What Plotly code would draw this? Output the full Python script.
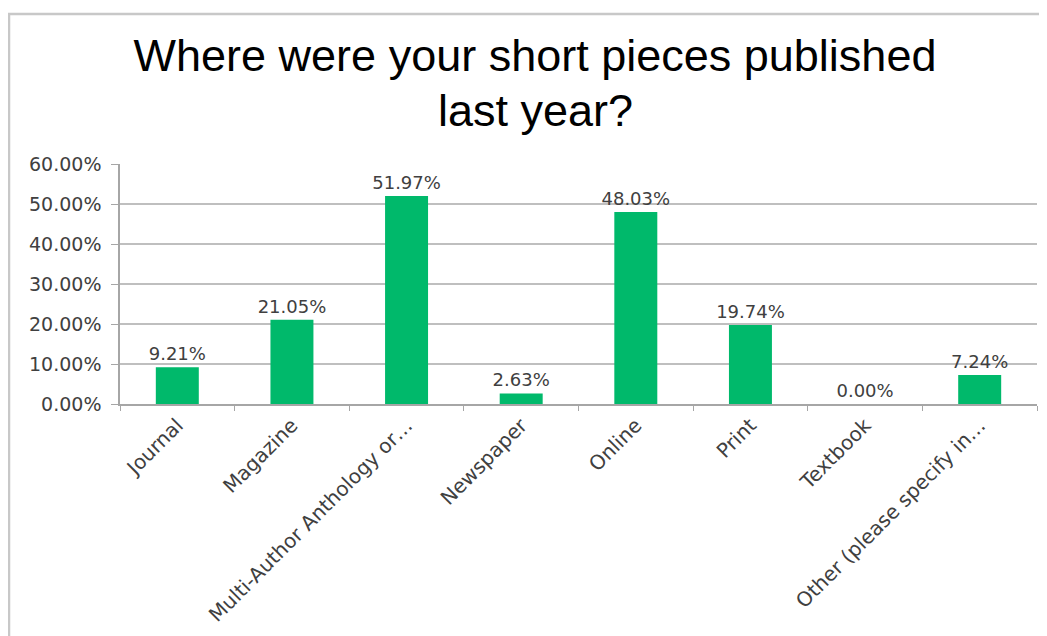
import plotly.graph_objects as go

categories = ["Journal", "Magazine", "Multi-Author Anthology or…", "Newspaper",
              "Online", "Print", "Textbook", "Other (please specify in…"]
values = [9.21, 21.05, 51.97, 2.63, 48.03, 19.74, 0.00, 7.24]
y_ticks = [0, 10, 20, 30, 40, 50, 60]
y_tick_labels = [f"{v:.2f}%" for v in y_ticks]
title_line1 = "Where were your short pieces published"
title_line2 = "last year?"

# page body has an 8px margin, so figure is sized to fit the viewport
W, H = 1039, 628
L, R, T, B = 112, 10, 156, 232
pw = W - L - R
ph = H - T - B


def px_x(x):
    return (x - L) / pw


def px_y(y):
    return (H - B - y) / ph


fig = go.Figure(go.Bar(
    x=categories, y=values,
    marker=dict(color="#00B96B", line=dict(width=0)),
    text=[f"{v:.2f}%" for v in values],
    textposition="outside",
    constraintext="none",
    textfont=dict(family="DejaVu Sans", size=18, color="#404040"),
    cliponaxis=False,
))

fig.add_shape(type="path", xref="paper", yref="paper",
              path=f"M {px_x(1)} {px_y(H + 20)} L {px_x(1)} {px_y(6)} L {px_x(W + 20)} {px_y(6)}",
              line=dict(color="#C8C8C8", width=2.5), layer="below")

fig.add_annotation(text=title_line2, xref="paper", yref="paper",
                   x=px_x(527), y=px_y(103), xanchor="center", yanchor="middle",
                   showarrow=False,
                   font=dict(family="Liberation Sans", size=45, color="#000000"))

fig.update_layout(
    width=W, height=H,
    margin=dict(l=L, r=R, t=T, b=B, autoexpand=False),
    paper_bgcolor="white", plot_bgcolor="white",
    bargap=0.625,
    showlegend=False,
    title=dict(text=title_line1, x=527 / W, xanchor="center", y=1 - 47 / H, yanchor="middle",
               font=dict(family="Liberation Sans", size=45, color="#000000")),
)
fig.update_xaxes(
    showline=True, linecolor="#A6A6A6", linewidth=1.5,
    ticks="outside", tickson="boundaries", ticklen=5, tickcolor="#A6A6A6",
    tickangle=-45, automargin=False,
    tickfont=dict(family="DejaVu Sans", size=20, color="#404040"),
    showgrid=False,
)
fig.update_yaxes(
    range=[0, 60], tickvals=y_ticks, ticktext=y_tick_labels,
    showline=True, linecolor="#A6A6A6", linewidth=1.5,
    ticks="outside", ticklen=7, tickcolor="#A6A6A6",
    showgrid=True, gridcolor="#BFBFBF", gridwidth=1.5,
    zeroline=False, automargin=False,
    ticklabelstandoff=6,
    tickfont=dict(family="DejaVu Sans", size=19, color="#404040"),
)

fig.write_html("out.html")
